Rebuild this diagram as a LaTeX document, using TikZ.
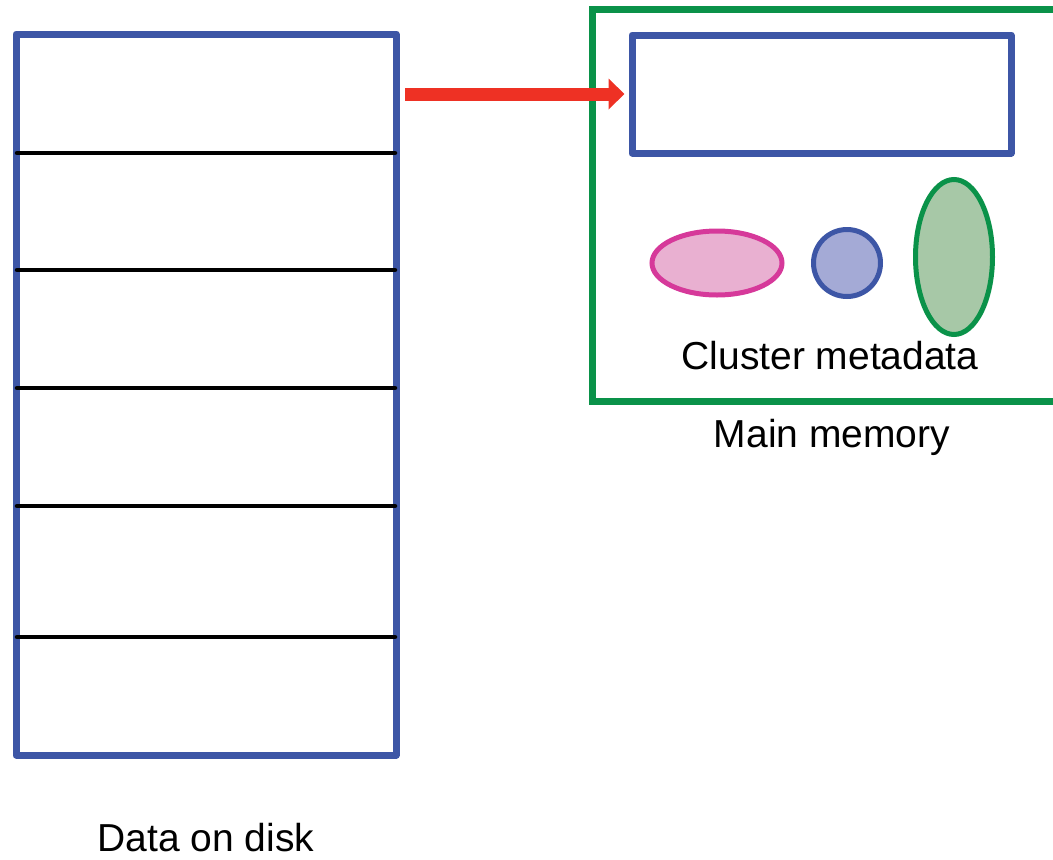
\documentclass[tikz,border=0pt]{standalone}
\usepackage{fontspec}
\setmainfont{Liberation Sans}
\usetikzlibrary{arrows.meta,shapes.geometric}
\definecolor{dblue}{HTML}{3D56A6}
\definecolor{dgreen}{HTML}{0A9249}
\definecolor{dred}{HTML}{EE3124}
\definecolor{pinkfill}{HTML}{E9B0D1}
\definecolor{pinkline}{HTML}{D6399A}
\definecolor{bluefill}{HTML}{A4AAD6}
\definecolor{greenfill}{HTML}{A7C8A7}
\tikzset{
  bluebox/.style={draw=dblue, line width=7pt, line join=round},
  sep/.style={draw=black, line width=4.5pt, line cap=round},
  lbl/.style={font=\fontsize{39}{46}\selectfont, inner sep=0pt},
}
\begin{document}
\begin{tikzpicture}[x=1pt,y=-1pt]
\useasboundingbox (0,0) rectangle (1053,860);
\clip (0,0) rectangle (1053,860);
% disk
\draw[bluebox] (16,34) rectangle (396,755);
\coordinate (diskR) at (405,94);
\foreach \y in {153,270,388,506,637} \draw[sep] (17,\y) -- (395,\y);
\node[lbl] (disk) at (206,838) {Data on disk};
% main memory
\draw[draw=dgreen, line width=7pt] (592,9) rectangle (1060,401);
\node[lbl] (mem) at (832,437) {Main memory};
\node[bluebox, minimum width=379pt, minimum height=118pt, inner sep=0pt] (cache) at (821.5,94) {};
\node[ellipse, draw=pinkline, fill=pinkfill, line width=5pt, minimum width=130pt, minimum height=64pt, inner sep=0pt] (e1) at (717,263) {};
\node[circle, draw=dblue, fill=bluefill, line width=5pt, minimum size=67pt, inner sep=0pt] (e2) at (847,263) {};
\node[ellipse, draw=dgreen, fill=greenfill, line width=5pt, minimum width=77pt, minimum height=155pt, inner sep=0pt] (e3) at (954,257) {};
\node[lbl] (meta) at (830,356) {Cluster metadata};
% arrow
\draw[dred, line width=13pt, -{Triangle[length=16pt,width=30pt]}] (diskR) -- ([xshift=-4pt]cache.west);
\end{tikzpicture}
\end{document}
